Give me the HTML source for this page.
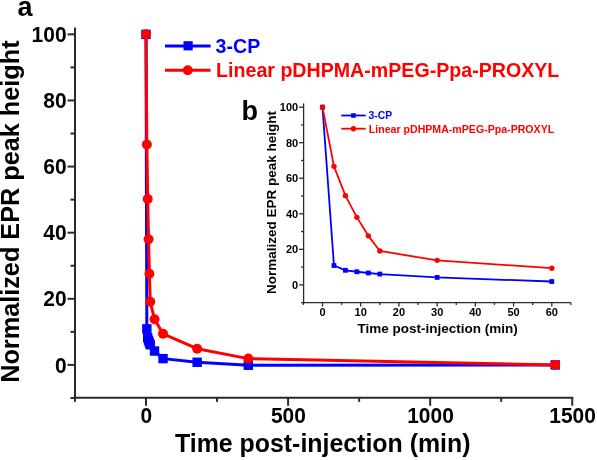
<!DOCTYPE html><html><head><meta charset="utf-8"><style>html,body{margin:0;padding:0;background:#fff;}svg{display:block;}text{font-family:'Liberation Sans', Arial, sans-serif;font-weight:bold;}</style></head><body>
<svg width="597" height="460" viewBox="0 0 597 460">
<rect width="597" height="460" fill="#fff"/>
<g stroke="#2a2a2a" stroke-width="2.0" fill="none">
<line x1="75.0" y1="27.5" x2="75.0" y2="398.85"/>
<line x1="74.0" y1="397.85" x2="573.255" y2="397.85"/>
<line x1="67.5" y1="364.90" x2="75.0" y2="364.90"/>
<line x1="67.5" y1="298.79" x2="75.0" y2="298.79"/>
<line x1="67.5" y1="232.68" x2="75.0" y2="232.68"/>
<line x1="67.5" y1="166.57" x2="75.0" y2="166.57"/>
<line x1="67.5" y1="100.46" x2="75.0" y2="100.46"/>
<line x1="67.5" y1="34.35" x2="75.0" y2="34.35"/>
<line x1="70.5" y1="397.95" x2="75.0" y2="397.95"/>
<line x1="70.5" y1="331.84" x2="75.0" y2="331.84"/>
<line x1="70.5" y1="265.74" x2="75.0" y2="265.74"/>
<line x1="70.5" y1="199.62" x2="75.0" y2="199.62"/>
<line x1="70.5" y1="133.51" x2="75.0" y2="133.51"/>
<line x1="70.5" y1="67.40" x2="75.0" y2="67.40"/>
<line x1="146.00" y1="397.85" x2="146.00" y2="405.75"/>
<line x1="288.08" y1="397.85" x2="288.08" y2="405.75"/>
<line x1="430.17" y1="397.85" x2="430.17" y2="405.75"/>
<line x1="572.25" y1="397.85" x2="572.25" y2="405.75"/>
<line x1="74.96" y1="397.85" x2="74.96" y2="401.85"/>
<line x1="217.04" y1="397.85" x2="217.04" y2="401.85"/>
<line x1="359.13" y1="397.85" x2="359.13" y2="401.85"/>
<line x1="501.21" y1="397.85" x2="501.21" y2="401.85"/>
</g>
<g font-size="21.0" text-anchor="end" fill="#000">
<text transform="translate(66.6,372.50) scale(1,1.07)">0</text>
<text transform="translate(66.6,306.39) scale(1,1.07)">20</text>
<text transform="translate(66.6,240.28) scale(1,1.07)">40</text>
<text transform="translate(66.6,174.17) scale(1,1.07)">60</text>
<text transform="translate(66.6,108.06) scale(1,1.07)">80</text>
<text transform="translate(66.6,41.95) scale(1,1.07)">100</text>
</g>
<g font-size="21.0" text-anchor="middle" fill="#000">
<text transform="translate(146.30,422.6) scale(1,1.07)">0</text>
<text transform="translate(288.38,422.6) scale(1,1.07)">500</text>
<text transform="translate(430.47,422.6) scale(1,1.07)">1000</text>
<text transform="translate(572.55,422.6) scale(1,1.07)">1500</text>
</g>
<text x="175" y="452.2" font-size="24.9" fill="#000">Time post-injection (min)</text>
<text transform="translate(19.3,382.8) rotate(-90)" x="0" y="0" font-size="25.25" fill="#000">Normalized EPR peak height</text>
<text x="17.4" y="16" font-size="27" fill="#000">a</text>
<polyline points="146.00,34.35 146.85,328.87 147.71,337.79 148.56,340.44 149.41,342.75 150.26,344.74 154.53,351.02 163.05,358.62 197.15,362.26 248.30,365.23 555.20,364.90" fill="none" stroke="#0000ff" stroke-width="3" stroke-linejoin="round"/>
<rect x="141.30" y="29.65" width="9.4" height="9.4" fill="#0000ff"/>
<rect x="142.15" y="324.17" width="9.4" height="9.4" fill="#0000ff"/>
<rect x="143.01" y="333.09" width="9.4" height="9.4" fill="#0000ff"/>
<rect x="143.86" y="335.74" width="9.4" height="9.4" fill="#0000ff"/>
<rect x="144.71" y="338.05" width="9.4" height="9.4" fill="#0000ff"/>
<rect x="145.56" y="340.04" width="9.4" height="9.4" fill="#0000ff"/>
<rect x="149.83" y="346.32" width="9.4" height="9.4" fill="#0000ff"/>
<rect x="158.35" y="353.92" width="9.4" height="9.4" fill="#0000ff"/>
<rect x="192.45" y="357.56" width="9.4" height="9.4" fill="#0000ff"/>
<rect x="243.60" y="360.53" width="9.4" height="9.4" fill="#0000ff"/>
<rect x="550.50" y="360.20" width="9.4" height="9.4" fill="#0000ff"/>
<polyline points="146.00,34.35 146.85,144.42 147.71,198.96 148.56,239.29 149.41,273.67 150.26,301.76 154.53,319.28 163.05,333.83 197.15,348.70 248.30,358.62 555.20,364.90" fill="none" stroke="#ff0000" stroke-width="3" stroke-linejoin="round"/>
<circle cx="146.00" cy="34.35" r="5" fill="#ff0000"/>
<circle cx="146.85" cy="144.42" r="5" fill="#ff0000"/>
<circle cx="147.71" cy="198.96" r="5" fill="#ff0000"/>
<circle cx="148.56" cy="239.29" r="5" fill="#ff0000"/>
<circle cx="149.41" cy="273.67" r="5" fill="#ff0000"/>
<circle cx="150.26" cy="301.76" r="5" fill="#ff0000"/>
<circle cx="154.53" cy="319.28" r="5" fill="#ff0000"/>
<circle cx="163.05" cy="333.83" r="5" fill="#ff0000"/>
<circle cx="197.15" cy="348.70" r="5" fill="#ff0000"/>
<circle cx="248.30" cy="358.62" r="5" fill="#ff0000"/>
<circle cx="555.20" cy="364.90" r="5" fill="#ff0000"/>
<line x1="165" y1="45.9" x2="210.6" y2="45.9" stroke="#0000ff" stroke-width="3"/>
<rect x="183.5" y="41.2" width="9.2" height="9.2" fill="#0000ff"/>
<text x="215.6" y="52.6" font-size="19.6" fill="#0000ff">3-CP</text>
<line x1="165" y1="70.2" x2="210.6" y2="70.2" stroke="#ff0000" stroke-width="3"/>
<circle cx="187.8" cy="70.2" r="5" fill="#ff0000"/>
<text x="216.1" y="77.1" font-size="19.62" fill="#ff0000">Linear pDHPMA-mPEG-Ppa-PROXYL</text>
<g stroke="#2a2a2a" stroke-width="1.3" fill="none">
<line x1="303.6" y1="103.4" x2="303.6" y2="303.34999999999997"/>
<line x1="302.95000000000005" y1="302.7" x2="570.91" y2="302.7"/>
<line x1="299.1" y1="284.90" x2="303.6" y2="284.90"/>
<line x1="299.1" y1="249.35" x2="303.6" y2="249.35"/>
<line x1="299.1" y1="213.80" x2="303.6" y2="213.80"/>
<line x1="299.1" y1="178.25" x2="303.6" y2="178.25"/>
<line x1="299.1" y1="142.70" x2="303.6" y2="142.70"/>
<line x1="299.1" y1="107.15" x2="303.6" y2="107.15"/>
<line x1="301.1" y1="302.67" x2="303.6" y2="302.67"/>
<line x1="301.1" y1="267.12" x2="303.6" y2="267.12"/>
<line x1="301.1" y1="231.57" x2="303.6" y2="231.57"/>
<line x1="301.1" y1="196.02" x2="303.6" y2="196.02"/>
<line x1="301.1" y1="160.47" x2="303.6" y2="160.47"/>
<line x1="301.1" y1="124.92" x2="303.6" y2="124.92"/>
<line x1="322.50" y1="302.7" x2="322.50" y2="306.5"/>
<line x1="360.72" y1="302.7" x2="360.72" y2="306.5"/>
<line x1="398.93" y1="302.7" x2="398.93" y2="306.5"/>
<line x1="437.15" y1="302.7" x2="437.15" y2="306.5"/>
<line x1="475.37" y1="302.7" x2="475.37" y2="306.5"/>
<line x1="513.59" y1="302.7" x2="513.59" y2="306.5"/>
<line x1="551.80" y1="302.7" x2="551.80" y2="306.5"/>
<line x1="303.39" y1="302.7" x2="303.39" y2="304.9"/>
<line x1="341.61" y1="302.7" x2="341.61" y2="304.9"/>
<line x1="379.83" y1="302.7" x2="379.83" y2="304.9"/>
<line x1="418.04" y1="302.7" x2="418.04" y2="304.9"/>
<line x1="456.26" y1="302.7" x2="456.26" y2="304.9"/>
<line x1="494.48" y1="302.7" x2="494.48" y2="304.9"/>
<line x1="532.69" y1="302.7" x2="532.69" y2="304.9"/>
<line x1="570.91" y1="302.7" x2="570.91" y2="304.9"/>
</g>
<g font-size="11" text-anchor="end" fill="#000">
<text x="298.2" y="288.80">0</text>
<text x="298.2" y="253.25">20</text>
<text x="298.2" y="217.70">40</text>
<text x="298.2" y="182.15">60</text>
<text x="298.2" y="146.60">80</text>
<text x="298.2" y="111.05">100</text>
</g>
<g font-size="11" text-anchor="middle" fill="#000">
<text x="322.50" y="316.2">0</text>
<text x="360.72" y="316.2">10</text>
<text x="398.93" y="316.2">20</text>
<text x="437.15" y="316.2">30</text>
<text x="475.37" y="316.2">40</text>
<text x="513.59" y="316.2">50</text>
<text x="551.80" y="316.2">60</text>
</g>
<text x="357.6" y="332.6" font-size="13.5" fill="#000">Time post-injection (min)</text>
<text transform="translate(275.9,294) rotate(-90)" x="0" y="0" font-size="13.5" fill="#000">Normalized EPR peak height</text>
<text x="241.6" y="119.5" font-size="27" fill="#000">b</text>
<polyline points="322.50,107.15 333.97,265.53 345.43,270.32 356.90,271.75 368.36,272.99 379.83,274.06 437.15,277.43 551.80,281.52" fill="none" stroke="#0000ff" stroke-width="1.8" stroke-linejoin="round"/>
<rect x="320.10" y="104.75" width="4.8" height="4.8" fill="#0000ff"/>
<rect x="331.57" y="263.13" width="4.8" height="4.8" fill="#0000ff"/>
<rect x="343.03" y="267.92" width="4.8" height="4.8" fill="#0000ff"/>
<rect x="354.50" y="269.35" width="4.8" height="4.8" fill="#0000ff"/>
<rect x="365.96" y="270.59" width="4.8" height="4.8" fill="#0000ff"/>
<rect x="377.43" y="271.66" width="4.8" height="4.8" fill="#0000ff"/>
<rect x="434.75" y="275.03" width="4.8" height="4.8" fill="#0000ff"/>
<rect x="549.40" y="279.12" width="4.8" height="4.8" fill="#0000ff"/>
<polyline points="322.50,107.15 333.97,166.34 345.43,195.67 356.90,217.35 368.36,235.84 379.83,250.95 437.15,260.37 551.80,268.19" fill="none" stroke="#ff0000" stroke-width="1.8" stroke-linejoin="round"/>
<circle cx="322.50" cy="107.15" r="2.7" fill="#ff0000"/>
<circle cx="333.97" cy="166.34" r="2.7" fill="#ff0000"/>
<circle cx="345.43" cy="195.67" r="2.7" fill="#ff0000"/>
<circle cx="356.90" cy="217.35" r="2.7" fill="#ff0000"/>
<circle cx="368.36" cy="235.84" r="2.7" fill="#ff0000"/>
<circle cx="379.83" cy="250.95" r="2.7" fill="#ff0000"/>
<circle cx="437.15" cy="260.37" r="2.7" fill="#ff0000"/>
<circle cx="551.80" cy="268.19" r="2.7" fill="#ff0000"/>
<line x1="341.3" y1="115.5" x2="365.7" y2="115.5" stroke="#0000ff" stroke-width="1.8"/>
<rect x="351.1" y="113.2" width="4.6" height="4.6" fill="#0000ff"/>
<text x="368.5" y="119" font-size="10.4" fill="#0000ff">3-CP</text>
<line x1="341.3" y1="128.7" x2="365.7" y2="128.7" stroke="#ff0000" stroke-width="1.8"/>
<circle cx="353.4" cy="128.7" r="2.7" fill="#ff0000"/>
<text x="368.8" y="132.6" font-size="10.6" fill="#ff0000">Linear pDHPMA-mPEG-Ppa-PROXYL</text>
</svg></body></html>
